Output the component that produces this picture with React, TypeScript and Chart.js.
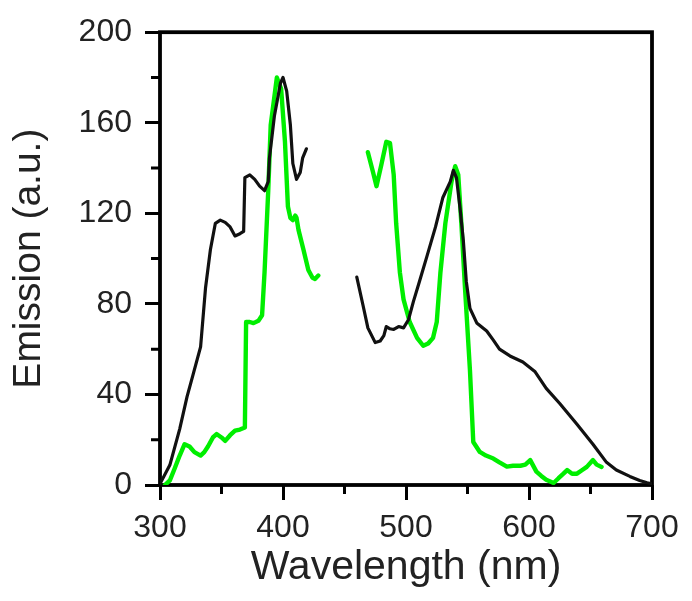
import React, { useEffect, useRef } from 'react';
import { Chart, registerables } from 'chart.js';

Chart.register(...registerables);

// ---- Data ----
const xMajorTicks = [300, 400, 500, 600, 700];
const xMinorTicks = [350, 450, 550, 650];
const yMajorTicks = [0, 40, 80, 120, 160, 200];
const yMinorTicks = [20, 60, 100, 140, 180];

const blackWl1 = [300, 308, 316, 322, 327, 333, 337, 341, 345, 349, 353, 357, 361, 365, 368, 369, 373, 377, 381, 385, 388, 389, 393, 398, 400, 403, 406, 408, 411, 414, 416, 419];
const blackEm1 = [0.5, 8.8, 24.7, 39, 49, 61, 87, 104, 115.6, 117, 116, 114, 110, 111, 112, 135.8, 137, 135, 132, 130, 134, 144.5, 163, 177.6, 180, 174, 159, 142, 135, 138, 144.5, 148.5];

const greenWl1 = [304, 308, 312, 316, 320, 324, 328, 333, 336, 339, 343, 346, 350, 353, 357, 361, 365, 369, 370, 373, 376, 380, 383, 385, 388, 390, 395, 398.5, 401.6, 404, 406, 408, 410, 411, 412.6, 416.6, 420.6, 424, 426, 428.7];
const greenEm1 = [0, 2, 7.4, 13, 18, 17, 14.5, 13, 14.5, 17, 21, 22.5, 21, 19.5, 22, 24, 24.5, 25.4, 72, 72, 71.5, 72.5, 75, 94, 130, 159, 180, 175, 151.6, 123, 118, 117, 119, 118, 112.7, 104, 95, 91.5, 91, 92.5];

const blackWl2 = [460, 465, 469, 475, 479, 482, 484, 487, 490, 494, 498, 502, 506, 511, 517, 524, 530, 536, 538.5, 541, 544, 546.6, 549, 552, 557.5, 565.6, 571, 576, 584.5, 595, 605, 614, 625, 639, 652, 663, 671, 682, 690, 696, 700];
const blackEm2 = [91.8, 79.5, 69.4, 62.9, 63.6, 66, 70, 69, 68.7, 70, 69.4, 73, 81, 90, 101, 114, 127, 134, 139, 135.8, 122, 108, 90, 78, 71.6, 68, 64, 60, 57, 54.3, 50, 42.7, 36, 26.8, 18, 10, 6.6, 3.8, 2, 1, 0.5];

const greenWl2 = [469, 473, 476, 480, 484, 487, 490, 492, 495, 498, 503, 509, 514, 518, 522, 525, 528, 532, 537, 540, 542.5, 545, 548, 552, 554.7, 560, 565, 571, 576, 582, 587, 593, 597, 601, 606, 610, 614, 620, 624, 628, 631, 635, 639, 643, 647, 652, 655, 659];
const greenEm2 = [147, 138.6, 132, 141.6, 151.6, 151, 137, 115.6, 94, 82, 72, 65, 61.5, 62.5, 65, 72, 94, 115.6, 134, 140.8, 137, 115.6, 86.7, 50.6, 19, 14.6, 13, 11.7, 10, 8.1, 8.5, 8.5, 9, 11, 5.9, 4, 2.3, 0.9, 3, 5, 6.6, 5, 5, 6.5, 8, 11, 9, 8];

const xTitle = 'Wavelength (nm)';
const yTitle = 'Emission (a.u.)';

const BLACK = '#111111';
const GREEN = '#00ee00';
const FONT = "'Liberation Sans', Arial, sans-serif";
const TEXT = '#222222';

const pts = (xs: number[], ys: number[]) => xs.map((x, i) => ({ x, y: ys[i] }));

const framePlugin = {
  id: 'frameAndMinor',
  beforeDatasetsDraw(chart: any) {
    const { ctx, chartArea } = chart;
    const { left, right, top, bottom } = chartArea;
    const xs = chart.scales.x;
    const ys = chart.scales.y;
    ctx.save();
    ctx.strokeStyle = '#000';
    ctx.lineWidth = 3.8;
    ctx.lineJoin = 'miter';
    ctx.strokeRect(left, top, right - left, bottom - top);
    ctx.lineWidth = 3;
    ctx.beginPath();
    for (const v of xMinorTicks) {
      const p = xs.getPixelForValue(v);
      ctx.moveTo(p, bottom);
      ctx.lineTo(p, bottom + 9);
    }
    for (const v of yMinorTicks) {
      const p = ys.getPixelForValue(v);
      ctx.moveTo(left, p);
      ctx.lineTo(left - 9, p);
    }
    ctx.stroke();
    ctx.restore();
  },
};

export default function App() {
  const ref = useRef<HTMLCanvasElement | null>(null);
  useEffect(() => {
    if (!ref.current) return;
    const chart = new Chart(ref.current, {
      type: 'line',
      data: {
        datasets: [
          { data: pts(blackWl1, blackEm1), borderColor: BLACK, borderWidth: 3.2 },
          { data: pts(blackWl2, blackEm2), borderColor: BLACK, borderWidth: 3.2 },
          { data: pts(greenWl1, greenEm1), borderColor: GREEN, borderWidth: 4.4 },
          { data: pts(greenWl2, greenEm2), borderColor: GREEN, borderWidth: 4.4 },
        ] as any,
      },
      options: {
        animation: false,
        responsive: false,
        maintainAspectRatio: false,
        elements: {
          point: { radius: 0, hoverRadius: 0 },
          line: { tension: 0, borderJoinStyle: 'round', borderCapStyle: 'round' },
        },
        layout: { padding: { left: 0, top: 26, right: 40, bottom: 0 } },
        plugins: { legend: { display: false }, tooltip: { enabled: false } },
        scales: {
          x: {
            type: 'linear',
            min: 300,
            max: 700,
            afterBuildTicks: (s: any) => { s.ticks = xMajorTicks.map((v) => ({ value: v })); },
            afterFit: (s: any) => { s.height = 116; },
            grid: { drawOnChartArea: false, drawTicks: true, tickLength: 15, tickWidth: 3, tickColor: '#000' },
            border: { display: false },
            ticks: { color: TEXT, font: { family: FONT, size: 32 }, padding: 9, maxRotation: 0, autoSkip: false },
            title: { display: true, text: xTitle, color: TEXT, font: { family: FONT, size: 41 }, padding: { top: 0, bottom: 9 } },
          },
          y: {
            type: 'linear',
            min: 0,
            max: 200,
            afterBuildTicks: (s: any) => { s.ticks = yMajorTicks.map((v) => ({ value: v })); },
            afterFit: (s: any) => { s.width = 160; },
            grid: { drawOnChartArea: false, drawTicks: true, tickLength: 15, tickWidth: 3, tickColor: '#000' },
            border: { display: false },
            ticks: { color: TEXT, font: { family: FONT, size: 32 }, padding: 13, autoSkip: false },
            title: { display: true, text: yTitle, color: TEXT, font: { family: FONT, size: 39 }, padding: { top: 6, bottom: 0 } },
          },
        },
      } as any,
      plugins: [framePlugin],
    });
    return () => chart.destroy();
  }, []);
  return (
    <div style={{ position: 'fixed', left: 0, top: 0, width: 692, height: 601, background: '#fff' }}>
      <canvas ref={ref} width={692} height={601} style={{ display: 'block', width: 692, height: 601 }} />
    </div>
  );
}
